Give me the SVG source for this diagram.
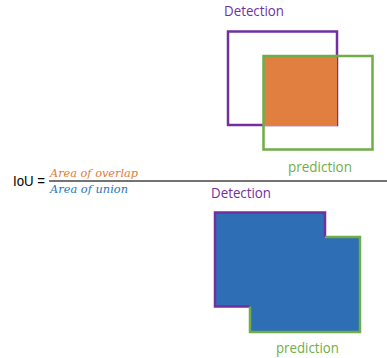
<svg xmlns="http://www.w3.org/2000/svg" width="387" height="358" viewBox="0 0 387 358">
<style>
.lbl{font-family:"Open Sans","Liberation Sans",sans-serif;font-size:14px}
.det{fill:#7030A0}
.pred{fill:#70AD47}
.frac{font-family:"DejaVu Serif","Liberation Serif",serif;font-style:italic;font-size:11px}
.box{fill:none;stroke-width:2.5}
</style>
<rect width="387" height="358" fill="#ffffff"/>
<g id="top-detection">
<rect class="box" x="228" y="31.5" width="109" height="93.5" stroke="#7030A0"/>
<text class="lbl det" x="224" y="15.5" textLength="60" lengthAdjust="spacingAndGlyphs">Detection</text>
</g>
<g id="top-overlap">
<rect x="263" y="56" width="74" height="70" fill="#E07F40"/>
</g>
<g id="top-prediction">
<rect class="box" x="263.5" y="56" width="109" height="93.5" stroke="#70AD47"/>
<text class="lbl pred" x="288" y="171.5" textLength="64" lengthAdjust="spacingAndGlyphs">prediction</text>
</g>
<g id="formula">
<text x="13" y="186" font-family="Liberation Sans,Arial,sans-serif" font-size="14" textLength="32" lengthAdjust="spacingAndGlyphs" fill="#000">IoU =</text>
<text class="frac" x="50" y="176.5" textLength="88" lengthAdjust="spacingAndGlyphs" fill="#E07B39">Area of overlap</text>
<text class="frac" x="50" y="193" textLength="78" lengthAdjust="spacingAndGlyphs" fill="#2E75B6">Area of union</text>
</g>
<g id="connectors">
<line x1="49" y1="181" x2="387" y2="181" stroke="#444444" stroke-width="1.5"/>
</g>
<g id="bottom-union">
<polygon points="215,212.5 325,212.5 325,237 360,237 360,332 250,332 250,306.5 215,306.5" fill="#2E6EB5"/>
<polyline points="250,306.5 215,306.5 215,212.5 325,212.5 325,237" fill="none" stroke="#7030A0" stroke-width="2.5"/>
<polyline points="325,237 360,237 360,332 250,332 250,306.5" fill="none" stroke="#70AD47" stroke-width="2.5"/>
<text class="lbl det" x="211" y="198" textLength="60" lengthAdjust="spacingAndGlyphs">Detection</text>
<text class="lbl pred" x="276" y="352.5" textLength="63" lengthAdjust="spacingAndGlyphs">prediction</text>
</g>
</svg>
